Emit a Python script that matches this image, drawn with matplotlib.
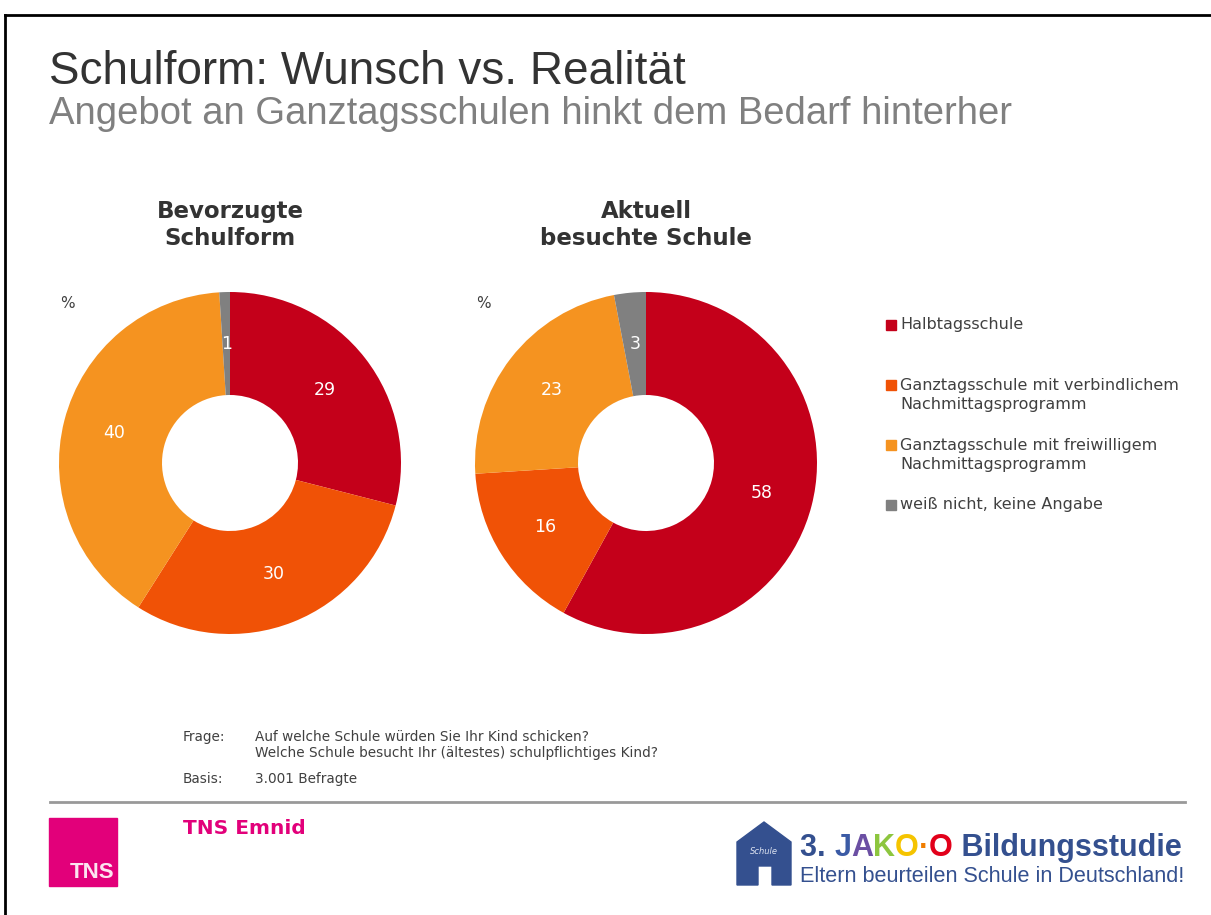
import matplotlib
matplotlib.use("Agg")
import matplotlib.pyplot as plt
from matplotlib.lines import Line2D
from matplotlib.patches import Rectangle, Polygon

W, H = 1211, 915
categories = ["Halbtagsschule",
              "Ganztagsschule mit verbindlichem\nNachmittagsprogramm",
              "Ganztagsschule mit freiwilligem\nNachmittagsprogramm",
              "weiß nicht, keine Angabe"]
preferred = [29, 30, 40, 1]
current = [58, 16, 23, 3]
chart_titles = ["Bevorzugte\nSchulform", "Aktuell\nbesuchte Schule"]
colors = ["#C4001A", "#F05206", "#F59320", "#808080"]
TXT = "#404040"

fig = plt.figure(figsize=(W / 100, H / 100), dpi=100)
fig.patch.set_facecolor("white")

def fx(x): return x / W
def fy(y): return 1 - y / H

# frame
fig.add_artist(Line2D([fx(5), fx(1211)], [fy(15), fy(15)], color="black", lw=2))
fig.add_artist(Line2D([fx(5), fx(5)], [fy(15), fy(915)], color="black", lw=2))

# titles
fig.text(fx(49), fy(72), "Schulform: Wunsch vs. Realität", family="Liberation Sans",
         fontsize=33, color="#333333", va="center", ha="left")
fig.text(fx(49), fy(114), "Angebot an Ganztagsschulen hinkt dem Bedarf hinterher",
         family="Liberation Sans", fontsize=27.5, color="#808080", va="center", ha="left")

R_OUT, R_IN = 171, 68
centers = [(230, 463), (646, 463)]
for (cx, cy), vals, ttl in zip(centers, [preferred, current], chart_titles):
    ax = fig.add_axes([fx(cx - R_OUT), fy(cy + R_OUT), 2 * R_OUT / W, 2 * R_OUT / H])
    wedges, texts, autotexts = ax.pie(
        vals, colors=colors, startangle=90, counterclock=False, radius=1,
        wedgeprops=dict(width=1 - R_IN / R_OUT, edgecolor="none"),
        autopct=lambda p: f"{p:.0f}",
        pctdistance=(1 + R_IN / R_OUT) / 2,
        textprops=dict(color="white", fontsize=12.5, family="DejaVu Sans"))
    ax.set_xlim(-1, 1)
    ax.set_ylim(-1, 1)
    ax.set_aspect("equal")
    ax.axis("off")
    fig.text(fx(cx), fy(225), ttl, ha="center", va="center", fontsize=16.5,
             fontweight="bold", color="#333333", linespacing=1.2)
    fig.text(fx(cx - 170), fy(303), "%", ha="left", va="center", fontsize=11, color=TXT)

# legend
leg_y = [325, 395, 455, 505]
for c, lab, y in zip(colors, categories, leg_y):
    nl = lab.count("\n")
    first = y - 10 * nl
    fig.add_artist(Rectangle((fx(886), fy(first + 5)), 10 / W, 10 / H, color=c,
                             transform=fig.transFigure))
    fig.text(fx(900), fy(y), lab, ha="left", va="center", fontsize=11.5,
             color=TXT, linespacing=1.4)

# footnote
fs = 9.8
fig.text(fx(183), fy(737), "Frage:", fontsize=fs, color=TXT, va="center")
fig.text(fx(255), fy(737), "Auf welche Schule würden Sie Ihr Kind schicken?", fontsize=fs, color=TXT, va="center")
fig.text(fx(255), fy(753), "Welche Schule besucht Ihr (ältestes) schulpflichtiges Kind?", fontsize=fs, color=TXT, va="center")
fig.text(fx(183), fy(779), "Basis:", fontsize=fs, color=TXT, va="center")
fig.text(fx(255), fy(779), "3.001 Befragte", fontsize=fs, color=TXT, va="center")

fig.add_artist(Line2D([fx(50), fx(1185)], [fy(802), fy(802)], color="#999999", lw=2))

# TNS logo
fig.add_artist(Rectangle((fx(49), fy(886)), 68 / W, 68 / H, color="#E2007A",
                         transform=fig.transFigure))
fig.text(fx(114), fy(873), "TNS", fontsize=16, color="#FCE4F0", ha="right", va="center",
         family="Liberation Sans", fontweight="bold")
fig.text(fx(183), fy(828), "TNS Emnid", fontsize=14.5, fontweight="bold", color="#E2007A",
         ha="left", va="center")

# JAKO-O logo (approximation)
blue = "#34508F"
house = [(737, 885), (737, 842), (764, 822), (791, 842), (791, 885), (772, 885),
         (772, 866), (758, 866), (758, 885)]
fig.add_artist(Polygon([(fx(x), fy(y)) for x, y in house], closed=True, color=blue,
                       transform=fig.transFigure))
fig.text(fx(764), fy(851), "Schule", fontsize=6, color="#DDE3F0", ha="center", va="center",
         style="italic")
pieces = [("3. ", blue), ("J", "#3B5BA5"), ("A", "#6B4FA3"), ("K", "#8DC63F"),
          ("O", "#F5C400"), ("·", "#F07D00"), ("O", "#E2001A"), (" Bildungsstudie", blue)]
x = fx(800)
renderer = fig.canvas.get_renderer()
for s, c in pieces:
    t = fig.text(x, fy(848), s, fontsize=22, fontweight="bold", color=c, ha="left",
                 va="center", family="Liberation Sans")
    bb = t.get_window_extent(renderer=renderer)
    x += bb.width / W
fig.text(fx(800), fy(877), "Eltern beurteilen Schule in Deutschland!", fontsize=15.6,
         color=blue, ha="left", va="center", family="Liberation Sans")

fig.savefig("out.png", dpi=100, facecolor="white")
